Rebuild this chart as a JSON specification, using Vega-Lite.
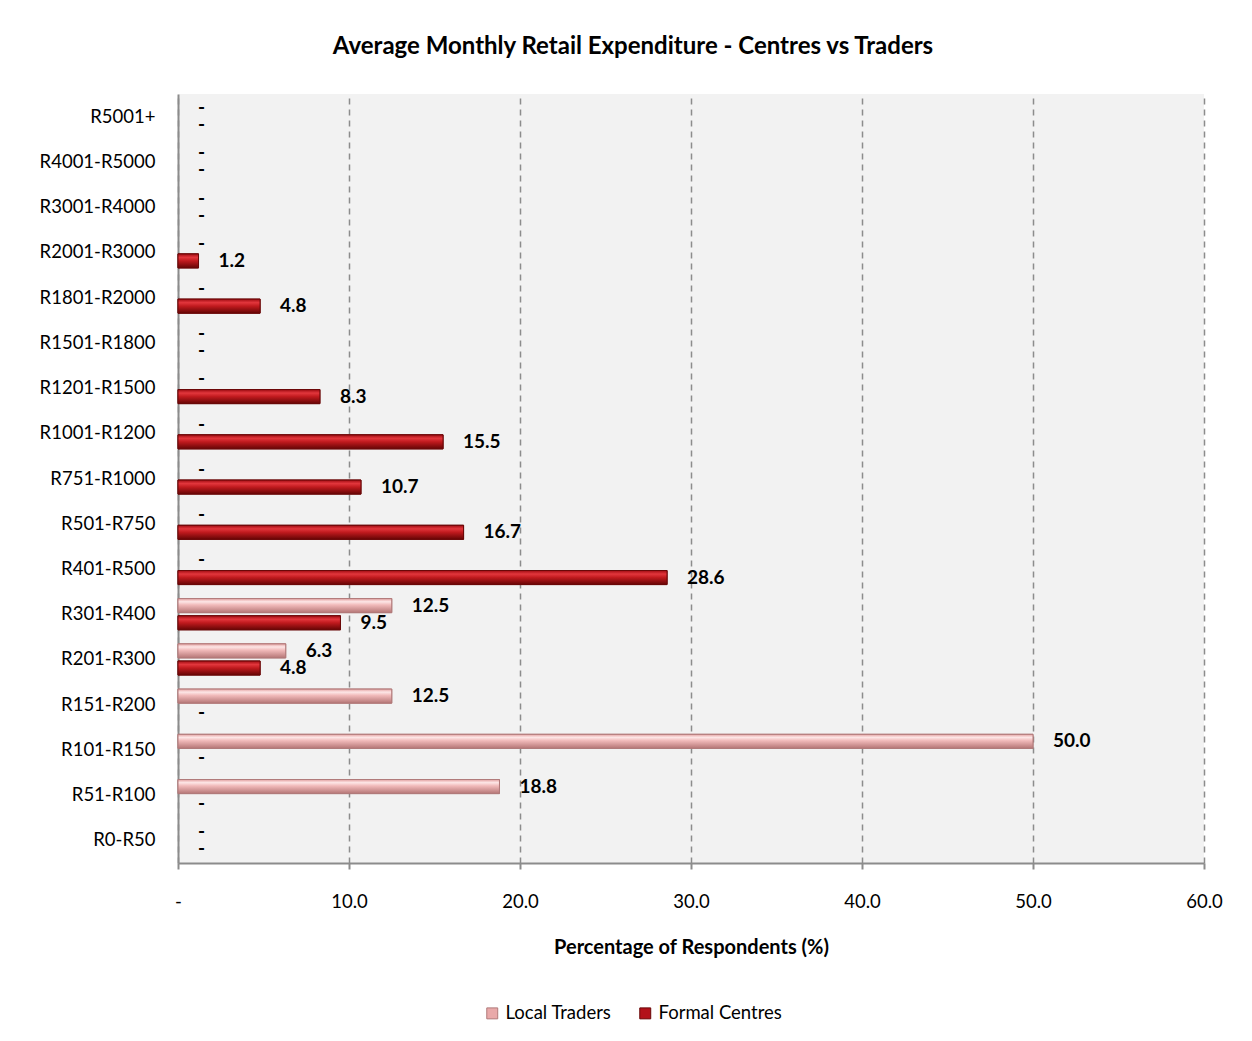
{
  "$schema": "https://vega.github.io/schema/vega-lite/v6.json",
  "width": 1026,
  "height": 769,
  "autosize": "none",
  "padding": {"left": 178, "top": 94, "right": 48, "bottom": 178},
  "background": "white",
  "title": {
    "text": "Average Monthly Retail Expenditure - Centres vs Traders",
    "font": "Lato", "fontSize": 24, "fontWeight": "bold", "color": "black",
    "anchor": "middle", "dx": -58, "offset": 35
  },
  "data": {
    "values": [
      {"band": "R5001+", "series": "Local Traders", "value": 0},
      {"band": "R5001+", "series": "Formal Centres", "value": 0},
      {"band": "R4001-R5000", "series": "Local Traders", "value": 0},
      {"band": "R4001-R5000", "series": "Formal Centres", "value": 0},
      {"band": "R3001-R4000", "series": "Local Traders", "value": 0},
      {"band": "R3001-R4000", "series": "Formal Centres", "value": 0},
      {"band": "R2001-R3000", "series": "Local Traders", "value": 0},
      {"band": "R2001-R3000", "series": "Formal Centres", "value": 1.2},
      {"band": "R1801-R2000", "series": "Local Traders", "value": 0},
      {"band": "R1801-R2000", "series": "Formal Centres", "value": 4.8},
      {"band": "R1501-R1800", "series": "Local Traders", "value": 0},
      {"band": "R1501-R1800", "series": "Formal Centres", "value": 0},
      {"band": "R1201-R1500", "series": "Local Traders", "value": 0},
      {"band": "R1201-R1500", "series": "Formal Centres", "value": 8.3},
      {"band": "R1001-R1200", "series": "Local Traders", "value": 0},
      {"band": "R1001-R1200", "series": "Formal Centres", "value": 15.5},
      {"band": "R751-R1000", "series": "Local Traders", "value": 0},
      {"band": "R751-R1000", "series": "Formal Centres", "value": 10.7},
      {"band": "R501-R750", "series": "Local Traders", "value": 0},
      {"band": "R501-R750", "series": "Formal Centres", "value": 16.7},
      {"band": "R401-R500", "series": "Local Traders", "value": 0},
      {"band": "R401-R500", "series": "Formal Centres", "value": 28.6},
      {"band": "R301-R400", "series": "Local Traders", "value": 12.5},
      {"band": "R301-R400", "series": "Formal Centres", "value": 9.5},
      {"band": "R201-R300", "series": "Local Traders", "value": 6.3},
      {"band": "R201-R300", "series": "Formal Centres", "value": 4.8},
      {"band": "R151-R200", "series": "Local Traders", "value": 12.5},
      {"band": "R151-R200", "series": "Formal Centres", "value": 0},
      {"band": "R101-R150", "series": "Local Traders", "value": 50.0},
      {"band": "R101-R150", "series": "Formal Centres", "value": 0},
      {"band": "R51-R100", "series": "Local Traders", "value": 18.8},
      {"band": "R51-R100", "series": "Formal Centres", "value": 0},
      {"band": "R0-R50", "series": "Local Traders", "value": 0},
      {"band": "R0-R50", "series": "Formal Centres", "value": 0}
    ]
  },
  "encoding": {
    "y": {
      "field": "band", "type": "nominal",
      "sort": ["R5001+", "R4001-R5000", "R3001-R4000", "R2001-R3000", "R1801-R2000", "R1501-R1800", "R1201-R1500", "R1001-R1200", "R751-R1000", "R501-R750", "R401-R500", "R301-R400", "R201-R300", "R151-R200", "R101-R150", "R51-R100", "R0-R50"],
      "scale": {"paddingInner": 0.31, "paddingOuter": 0.155},
      "axis": {
        "title": null, "ticks": false, "domain": true, "domainColor": "#8c8c8c", "domainWidth": 2,
        "labelFont": "Lato", "labelFontSize": 18.5, "labelColor": "black", "labelPadding": 23
      }
    },
    "yOffset": {
      "field": "series", "type": "nominal",
      "sort": ["Local Traders", "Formal Centres"],
      "scale": {"paddingInner": 0.18, "paddingOuter": 0}
    },
    "x": {
      "field": "value", "type": "quantitative",
      "scale": {"domain": [0, 60], "nice": false},
      "axis": {
        "values": [0, 10, 20, 30, 40, 50, 60],
        "labelExpr": "datum.value == 0 ? '-' : format(datum.value, '.1f')",
        "labelFlush": false,
        "title": "Percentage of Respondents (%)",
        "titleFont": "Lato", "titleFontSize": 20, "titleFontWeight": "bold", "titleColor": "black",
        "titlePadding": 27,
        "labelFont": "Lato", "labelFontSize": 18.5, "labelColor": "black", "labelPadding": 23,
        "tickColor": "#8c8c8c", "tickSize": 6, "tickWidth": 2,
        "domainColor": "#8c8c8c", "domainWidth": 2,
        "grid": true, "gridColor": "#8c8c8c", "gridDash": [6, 5], "gridWidth": 1.5
      }
    }
  },
  "layer": [
    {
      "transform": [{"filter": "datum.value > 0"}],
      "mark": {"type": "bar", "strokeWidth": 1},
      "encoding": {
        "color": {
          "field": "series", "type": "nominal",
          "scale": {"domain": ["Local Traders", "Formal Centres"], "range": ["#e9a9a9", "#b3121a"]},
          "legend": {
            "title": null, "orient": "none", "direction": "horizontal",
            "legendX": 305, "legendY": 910,
            "symbolType": "square", "symbolSize": 120, "symbolStrokeWidth": 1,
            "symbolStrokeColor": "#7a2a2a",
            "labelFont": "Lato", "labelFontSize": 18.5, "labelColor": "black",
            "columnPadding": 24
          }
        },
        "stroke": {
          "field": "series", "type": "nominal",
          "scale": {"domain": ["Local Traders", "Formal Centres"], "range": ["#b07a7a", "#6a0808"]},
          "legend": null
        }
      }
    },
    {
      "transform": [{"filter": "datum.value > 0"}],
      "mark": {"type": "bar", "strokeWidth": 1},
      "encoding": {
        "fill": {
          "condition": {
            "test": "datum.series === 'Local Traders'",
            "value": {
              "gradient": "linear", "x1": 0, "y1": 0, "x2": 0, "y2": 1,
              "stops": [
                {"offset": 0, "color": "#e4a2a2"},
                {"offset": 0.22, "color": "#fde6e6"},
                {"offset": 0.45, "color": "#f1baba"},
                {"offset": 1, "color": "#b57676"}
              ]
            }
          },
          "value": {
            "gradient": "linear", "x1": 0, "y1": 0, "x2": 0, "y2": 1,
            "stops": [
              {"offset": 0, "color": "#a00c12"},
              {"offset": 0.25, "color": "#e2363c"},
              {"offset": 0.5, "color": "#c01a1e"},
              {"offset": 1, "color": "#660505"}
            ]
          }
        },
        "stroke": {
          "condition": {"test": "datum.series === 'Local Traders'", "value": "#b07a7a"},
          "value": "#6a0808"
        }
      }
    },
    {
      "mark": {"type": "text", "align": "left", "baseline": "middle", "dx": 20, "font": "Lato", "fontSize": 19, "fontWeight": "bold", "color": "black"},
      "encoding": {
        "text": {
          "condition": {"test": "datum.value === 0", "value": "-"},
          "field": "value", "type": "quantitative", "format": ".1f"
        }
      }
    }
  ],
  "config": {
    "view": {"fill": "#f2f2f2", "stroke": null}
  }
}
